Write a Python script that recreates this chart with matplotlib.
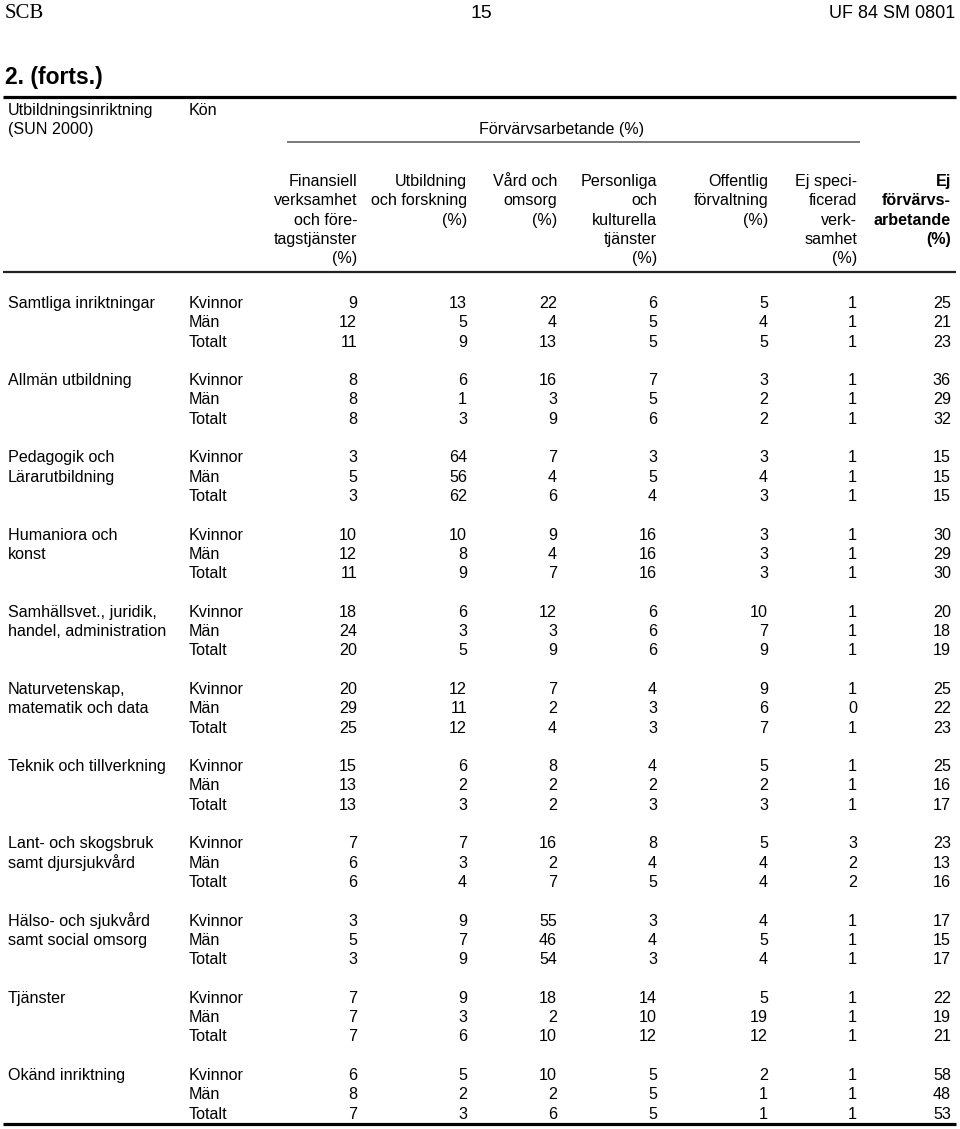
import matplotlib
matplotlib.use("Agg")
import matplotlib.pyplot as plt

# Tabellens innehåll
inriktningar = [
    ["Samtliga inriktningar"],
    ["Allmän utbildning"],
    ["Pedagogik och", "Lärarutbildning"],
    ["Humaniora och", "konst"],
    ["Samhällsvet., juridik,", "handel, administration"],
    ["Naturvetenskap,", "matematik och data"],
    ["Teknik och tillverkning"],
    ["Lant- och skogsbruk", "samt djursjukvård"],
    ["Hälso- och sjukvård", "samt social omsorg"],
    ["Tjänster"],
    ["Okänd inriktning"],
]
kon = ["Kvinnor", "Män", "Totalt"]

kolumnrubriker = [
    ["Finansiell", "verksamhet", "och före-", "tagstjänster", "(%)"],
    ["Utbildning", "och forskning", "(%)"],
    ["Vård och", "omsorg", "(%)"],
    ["Personliga", "och", "kulturella", "tjänster", "(%)"],
    ["Offentlig", "förvaltning", "(%)"],
    ["Ej speci-", "ficerad", "verk-", "samhet", "(%)"],
    ["Ej", "förvärvs-", "arbetande", "(%)"],
]

kvinnor = [
    [9, 13, 22, 6, 5, 1, 25],
    [8, 6, 16, 7, 3, 1, 36],
    [3, 64, 7, 3, 3, 1, 15],
    [10, 10, 9, 16, 3, 1, 30],
    [18, 6, 12, 6, 10, 1, 20],
    [20, 12, 7, 4, 9, 1, 25],
    [15, 6, 8, 4, 5, 1, 25],
    [7, 7, 16, 8, 5, 3, 23],
    [3, 9, 55, 3, 4, 1, 17],
    [7, 9, 18, 14, 5, 1, 22],
    [6, 5, 10, 5, 2, 1, 58],
]
man = [
    [12, 5, 4, 5, 4, 1, 21],
    [8, 1, 3, 5, 2, 1, 29],
    [5, 56, 4, 5, 4, 1, 15],
    [12, 8, 4, 16, 3, 1, 29],
    [24, 3, 3, 6, 7, 1, 18],
    [29, 11, 2, 3, 6, 0, 22],
    [13, 2, 2, 2, 2, 1, 16],
    [6, 3, 2, 4, 4, 2, 13],
    [5, 7, 46, 4, 5, 1, 15],
    [7, 3, 2, 10, 19, 1, 19],
    [8, 2, 2, 5, 1, 1, 48],
]
totalt = [
    [11, 9, 13, 5, 5, 1, 23],
    [8, 3, 9, 6, 2, 1, 32],
    [3, 62, 6, 4, 3, 1, 15],
    [11, 9, 7, 16, 3, 1, 30],
    [20, 5, 9, 6, 9, 1, 19],
    [25, 12, 4, 3, 7, 1, 23],
    [13, 3, 2, 3, 3, 1, 17],
    [6, 4, 7, 5, 4, 2, 16],
    [3, 9, 54, 3, 4, 1, 17],
    [7, 6, 10, 12, 12, 1, 21],
    [7, 3, 6, 5, 1, 1, 53],
]

# layout i pixlar
W, H = 960, 1129
kol_x = [357, 467, 557, 657, 768, 857, 951]
fs = 11.6
sans = "Liberation Sans"

fig = plt.figure(figsize=(W / 100, H / 100), dpi=100)
ax = fig.add_axes([0, 0, 1, 1])
ax.set_xlim(0, W)
ax.set_ylim(H, 0)
ax.axis("off")

# sidhuvud
ax.text(5, 18, "SCB", family="Liberation Serif", fontsize=15, va="baseline")
ax.text(481, 18, "15", family=sans, fontsize=14, ha="center", va="baseline")
ax.text(955, 18, "UF 84 SM 0801", family=sans, fontsize=13, ha="right", va="baseline")
ax.text(5, 84, "2. (forts.)", family=sans, fontsize=16.5, fontweight="bold", va="baseline")

ax.plot([3, 956], [97, 97], color="black", lw=2.3, solid_capstyle="butt")
ax.plot([3, 956], [272, 272], color="#222222", lw=1.6, solid_capstyle="butt")
ax.plot([3, 956], [1124, 1124], color="black", lw=2.3, solid_capstyle="butt")
ax.plot([287, 860], [142, 142], color="#555555", lw=1.1, solid_capstyle="butt")

ax.text(8, 115, "Utbildningsinriktning", family=sans, fontsize=fs, va="baseline")
ax.text(8, 134, "(SUN 2000)", family=sans, fontsize=fs, va="baseline")
ax.text(189, 115, "Kön", family=sans, fontsize=fs, va="baseline")
ax.text(562, 134, "Förvärvsarbetande (%)", family=sans, fontsize=fs, ha="center", va="baseline")

for j, rubrik in enumerate(kolumnrubriker):
    vikt = "bold" if j == len(kolumnrubriker) - 1 else "normal"
    for k, rad in enumerate(rubrik):
        ax.text(kol_x[j], 186 + 19.3 * k, rad, family=sans, fontsize=fs,
                fontweight=vikt, ha="right", va="baseline")

# tabellkropp
for i, namn in enumerate(inriktningar):
    y0 = 308 + 77.2 * i
    for k, rad in enumerate(namn):
        ax.text(8, y0 + 19.3 * k, rad, family=sans, fontsize=fs, va="baseline")
    for r, (etikett, varden) in enumerate(zip(kon, [kvinnor[i], man[i], totalt[i]])):
        y = y0 + 19.3 * r
        ax.text(189, y, etikett, family=sans, fontsize=fs, va="baseline")
        for j, v in enumerate(varden):
            ax.text(kol_x[j], y, str(v), family=sans, fontsize=fs, ha="right", va="baseline")

fig.savefig("out.png", dpi=100)
